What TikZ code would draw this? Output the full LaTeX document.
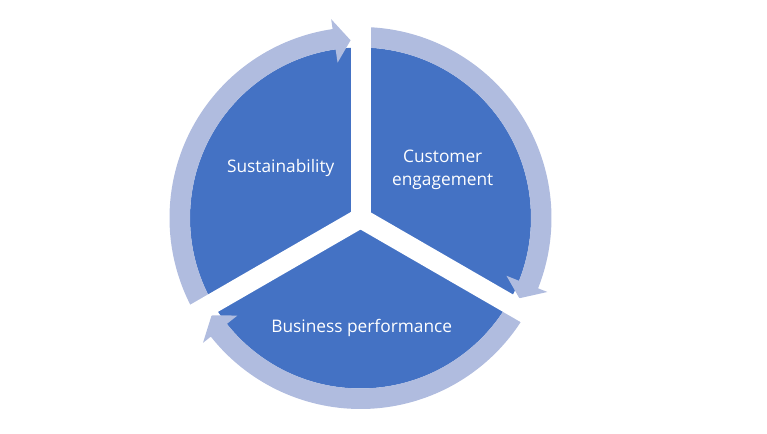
\documentclass[tikz,border=0pt]{standalone}
\usepackage{fontspec}
\setmainfont{Open Sans}
\definecolor{pieblue}{HTML}{4472C4}
\definecolor{ringblue}{HTML}{B0BCDF}
\newcommand\RingArrow[2]{%
  \pgfmathsetmacro\backang{#2+5.2}%
  \fill[ringarrow] (#1:191pt) arc[start angle=#1, end angle=\backang, radius=191pt]
    -- (\backang:201pt) -- (#2:178pt) -- (\backang:157pt) -- (\backang:170.5pt)
    arc[start angle=\backang, end angle=#1, radius=170.5pt] -- cycle;%
}
\begin{document}
\begin{tikzpicture}[
  sector/.style={fill=pieblue},
  ringarrow/.style={fill=ringblue},
  gapline/.style={draw=white, line width=20pt},
  txt/.style={text=white, font=\fontsize{17.3}{23.3}\selectfont, align=center, inner sep=0pt}
]
\useasboundingbox (0,0) rectangle (767pt,433pt);
\coordinate (C) at (360.5pt,215pt);
\fill[sector] (C) circle[radius=170.5pt];
\begin{scope}[shift={(C)}]
  \RingArrow{210}{93.2}
  \RingArrow{90}{-26.8}
  \RingArrow{330}{213.2}
\end{scope}
\draw[gapline] (C) -- ++(90:235pt);
\draw[gapline] (C) -- ++(-30:235pt);
\draw[gapline] (C) -- ++(210:235pt);
\fill[white] (C) circle[radius=11.5pt];
\node[txt] (sus) at (280.7pt,264.5pt) {Sustainability};
\node[txt] (cust) at (442.7pt,263.2pt) {Customer\\engagement};
\node[txt] (bus) at (361.7pt,105.5pt) {Business performance};
\end{tikzpicture}
\end{document}
